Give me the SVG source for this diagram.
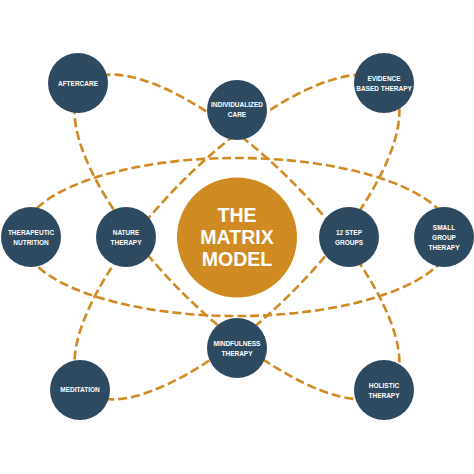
<svg xmlns="http://www.w3.org/2000/svg" width="474" height="474" viewBox="0 0 474 474">
  <style>
    .orbit { fill: none; stroke: #D08A22; stroke-width: 2.6; stroke-dasharray: 9 4; }
    .node circle { fill: #2E4A60; }
    .node text { fill: #FFFFFF; font-family: "Liberation Sans", Arial, sans-serif; font-weight: bold; font-size: 6.5px; text-anchor: middle; }
    .hub circle { fill: #CF8B22; }
    .hub text { fill: #FFFFFF; font-family: "Liberation Sans", Arial, sans-serif; font-weight: bold; font-size: 19.5px; text-anchor: middle; }
  </style>
  <rect width="474" height="474" fill="#FFFFFF"/>
  <g id="connectors">
    <ellipse class="orbit" cx="237" cy="237" rx="215" ry="79"/>
    <ellipse class="orbit" cx="237" cy="237" rx="216" ry="78" transform="rotate(45 237 237)"/>
    <ellipse class="orbit" cx="237" cy="237" rx="216" ry="78" transform="rotate(-45 237 237)"/>
  </g>
  <g id="matrix-model" class="hub">
    <circle cx="237" cy="237.5" r="60"/>
    <text x="237" y="221.7">THE</text>
    <text x="237" y="243.5">MATRIX</text>
    <text x="237" y="266">MODEL</text>
  </g>
  <g id="aftercare" class="node">
    <circle cx="78" cy="83" r="30"/>
    <text x="78" y="85.5">AFTERCARE</text>
  </g>
  <g id="individualized-care" class="node">
    <circle cx="237" cy="110" r="30"/>
    <text x="237" y="106.5">INDIVIDUALIZED</text>
    <text x="237" y="116.5">CARE</text>
  </g>
  <g id="evidence-based-therapy" class="node">
    <circle cx="384" cy="83" r="30"/>
    <text x="384" y="81">EVIDENCE</text>
    <text x="384" y="91">BASED THERAPY</text>
  </g>
  <g id="therapeutic-nutrition" class="node">
    <circle cx="31" cy="237" r="30"/>
    <text x="31" y="234.5">THERAPEUTIC</text>
    <text x="31" y="244.5">NUTRITION</text>
  </g>
  <g id="nature-therapy" class="node">
    <circle cx="126" cy="237" r="30"/>
    <text x="126" y="234.5">NATURE</text>
    <text x="126" y="244.5">THERAPY</text>
  </g>
  <g id="twelve-step-groups" class="node">
    <circle cx="349" cy="237" r="30"/>
    <text x="349" y="234.5">12 STEP</text>
    <text x="349" y="244.5">GROUPS</text>
  </g>
  <g id="small-group-therapy" class="node">
    <circle cx="444" cy="237" r="30"/>
    <text x="444" y="229.5">SMALL</text>
    <text x="444" y="239.5">GROUP</text>
    <text x="444" y="249.5">THERAPY</text>
  </g>
  <g id="mindfulness-therapy" class="node">
    <circle cx="237" cy="348" r="30"/>
    <text x="237" y="346">MINDFULNESS</text>
    <text x="237" y="356">THERAPY</text>
  </g>
  <g id="meditation" class="node">
    <circle cx="80" cy="390" r="30"/>
    <text x="80" y="392.3">MEDITATION</text>
  </g>
  <g id="holistic-therapy" class="node">
    <circle cx="384" cy="390" r="30"/>
    <text x="384" y="387.5">HOLISTIC</text>
    <text x="384" y="397.5">THERAPY</text>
  </g>
</svg>
